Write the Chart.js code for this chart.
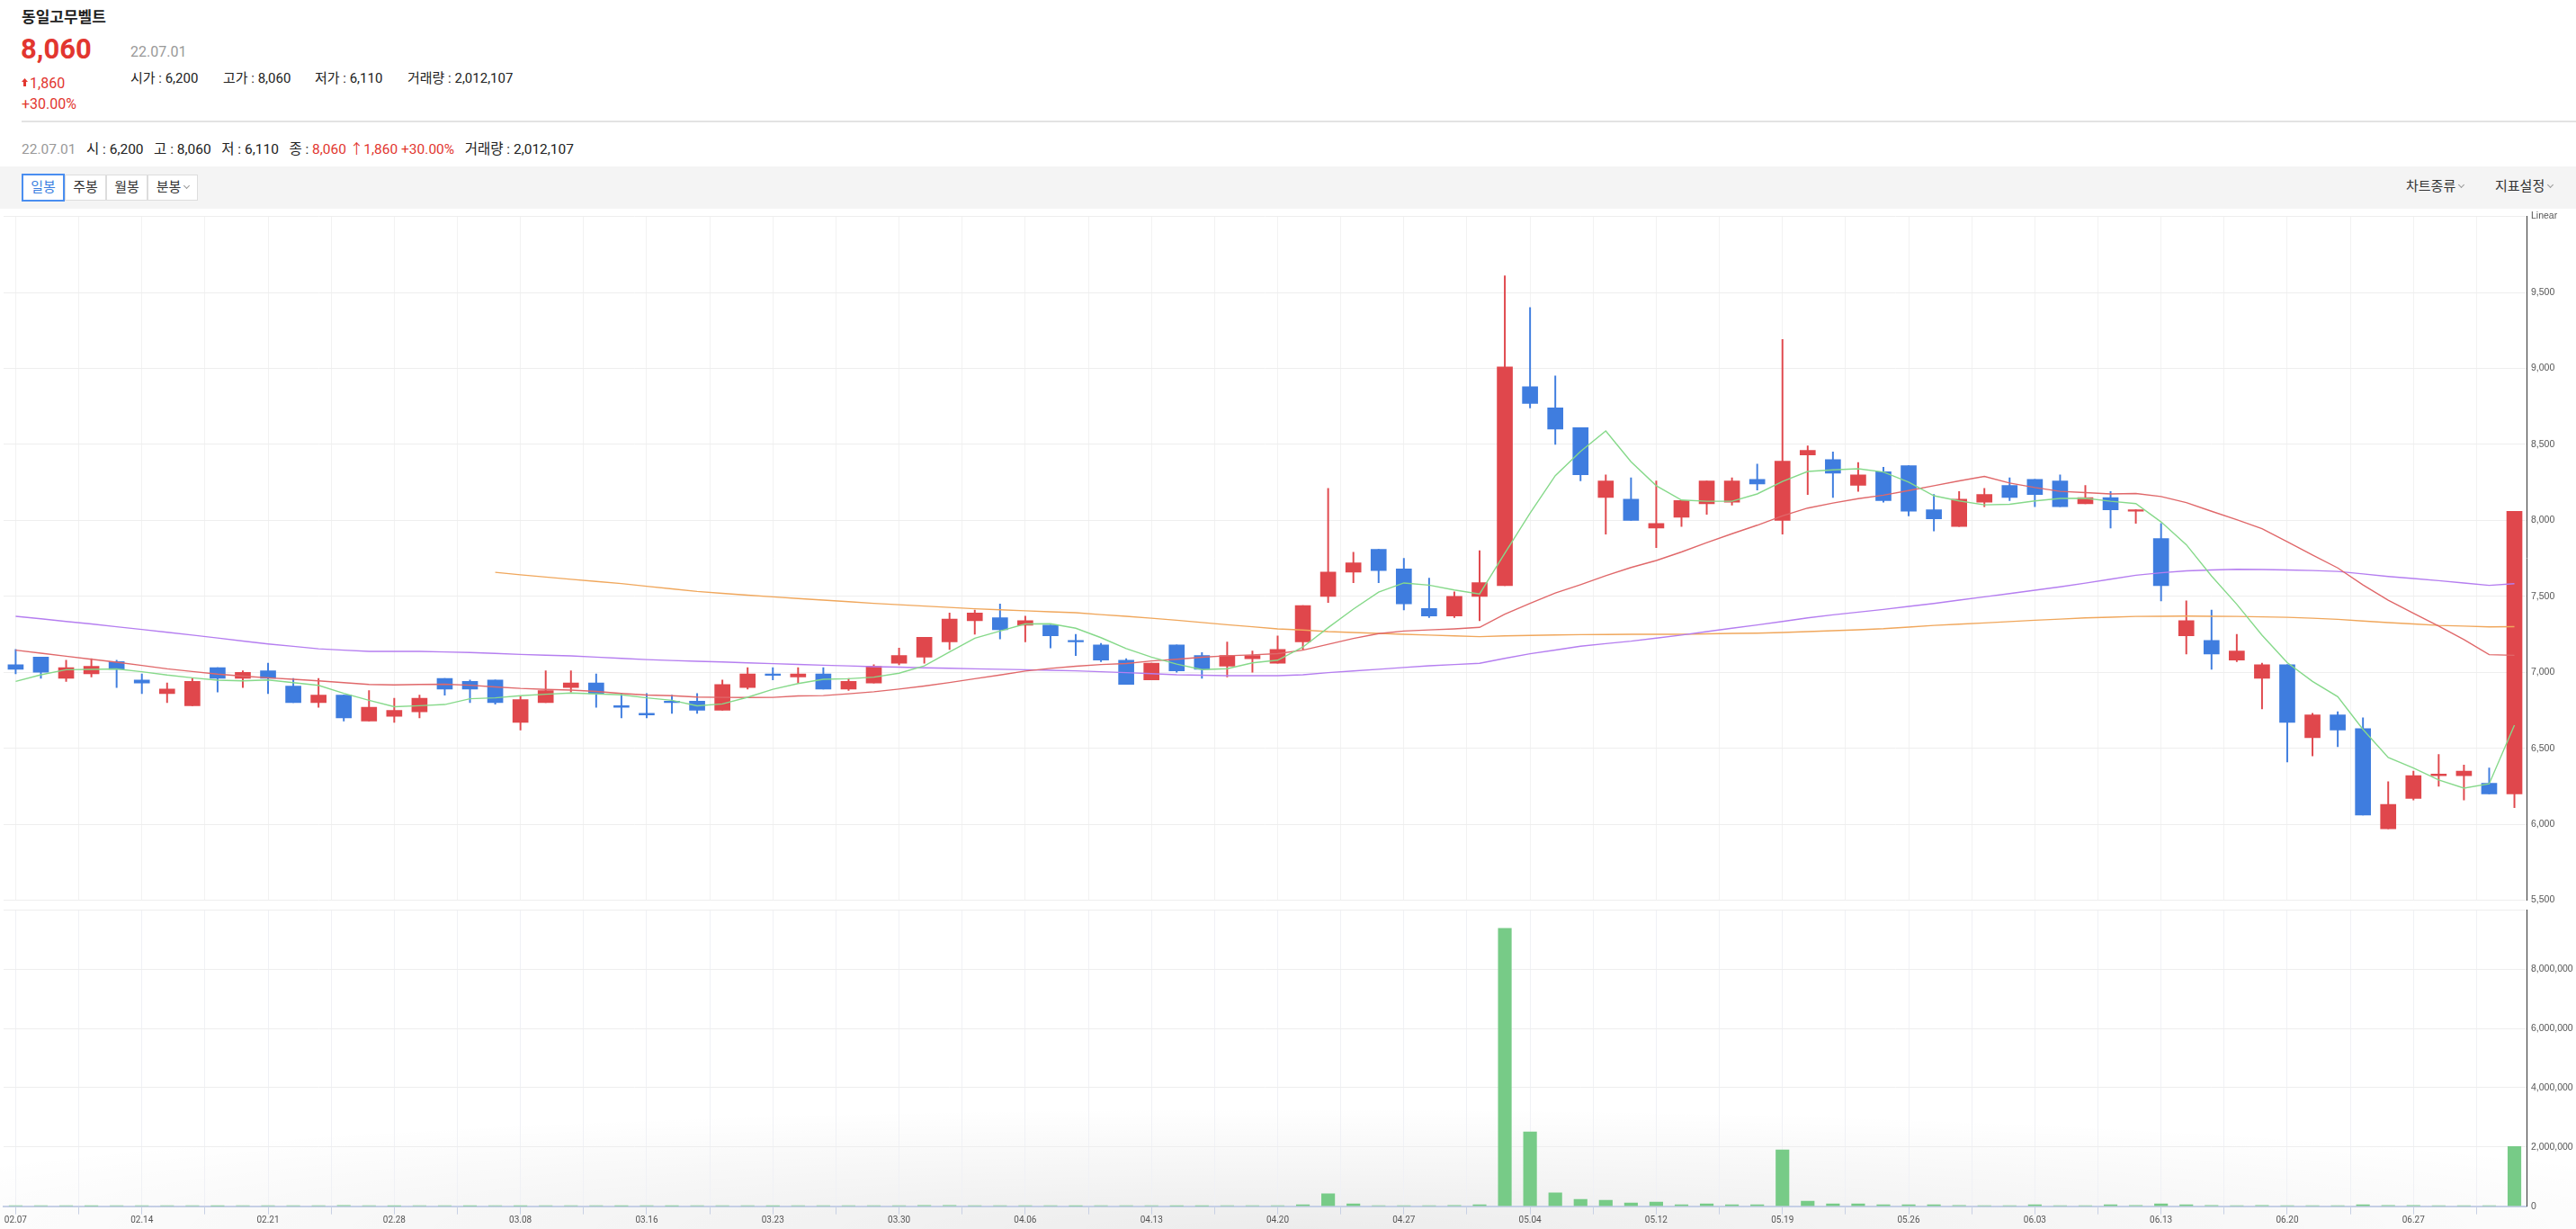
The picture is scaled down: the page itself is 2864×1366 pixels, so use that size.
<!DOCTYPE html>
<html><head><meta charset="utf-8">
<script src="https://cdn.jsdelivr.net/npm/chart.js@4.4.1/dist/chart.umd.min.js"></script>
<style>
html{overflow:hidden;height:1366px;}
html,body{margin:0;padding:0;background:#fff;}
body{width:2864px;height:1366px;overflow:hidden;position:relative;font-family:Roboto,"Noto Sans CJK KR",sans-serif;color:#222;}
.a{position:absolute;white-space:nowrap;}
.red{color:#e2362f;}
.grey{color:#999;}
.btn{position:absolute;top:194px;height:27px;border:1px solid #ddd;background:#fff;font-size:15px;line-height:27px;text-align:center;color:#333;box-sizing:content-box;}
.chev{display:inline-block;width:4px;height:4px;border-right:1px solid #999;border-bottom:1px solid #999;transform:rotate(45deg);margin-left:4px;vertical-align:4px;}
canvas{position:absolute;left:0;}
</style></head><body>
<div class="a" style="left:0;top:1230px;width:2864px;height:136px;background:radial-gradient(ellipse 60% 100% at 50% 100%, rgba(0,0,0,0.075), rgba(0,0,0,0) 100%);"></div>
<div class="a" style="left:24px;top:8px;font-size:17px;line-height:22px;font-weight:bold;color:#222;">동일고무벨트</div>
<div class="a red" style="left:23px;top:39px;font-size:31px;line-height:31px;font-weight:bold;">8,060</div>
<svg class="a" style="left:24px;top:87px;" width="7" height="9" viewBox="0 0 7 9"><path d="M3.5 0 L7 4 L5 4 L5 9 L2 9 L2 4 L0 4 Z" fill="#e2362f"/></svg>
<div class="a red" style="left:33px;top:85px;font-size:16px;line-height:16px;">1,860</div>
<div class="a red" style="left:24px;top:108px;font-size:16px;line-height:16px;">+30.00%</div>
<div class="a grey" style="left:145px;top:50px;font-size:16px;line-height:16px;">22.07.01</div>
<div class="a" style="left:145px;top:79px;font-size:15px;line-height:16px;">시가 : 6,200</div>
<div class="a" style="left:248px;top:79px;font-size:15px;line-height:16px;">고가 : 8,060</div>
<div class="a" style="left:350px;top:79px;font-size:15px;line-height:16px;">저가 : 6,110</div>
<div class="a" style="left:453px;top:79px;font-size:15px;line-height:16px;">거래량 : 2,012,107</div>
<div class="a" style="left:24px;top:134px;width:2840px;height:2px;background:#e3e3e3;"></div>
<div class="a" style="left:24px;top:158px;font-size:15.5px;line-height:16px;"><span class="grey">22.07.01</span>&nbsp;&nbsp; 시 : 6,200&nbsp;&nbsp; 고 : 8,060&nbsp;&nbsp; 저 : 6,110&nbsp;&nbsp; 종 : <span class="red">8,060 ↑1,860 +30.00%</span>&nbsp;&nbsp; 거래량 : 2,012,107</div>
<div class="a" style="left:0;top:185px;width:2864px;height:47px;background:#f4f4f4;"></div>
<div class="btn" style="left:24px;width:44px;border:2px solid #4a8ef0;top:193px;color:#3b7fe0;">일봉</div>
<div class="btn" style="left:72px;width:44px;">주봉</div>
<div class="btn" style="left:118px;width:44px;">월봉</div>
<div class="btn" style="left:164px;width:54px;">분봉<span class="chev"></span></div>
<div class="a" style="left:2675px;top:199px;font-size:15px;line-height:16px;color:#333;">차트종류<span class="chev"></span></div>
<div class="a" style="left:2774px;top:199px;font-size:15px;line-height:16px;color:#333;">지표설정<span class="chev"></span></div>
<canvas id="price" width="2864" height="800" style="top:221px;"></canvas>
<canvas id="vol" width="2864" height="375" style="top:991px;"></canvas>
<script>
const dates = ["02.07","02.08","02.09","02.10","02.11","02.14","02.15","02.16","02.17","02.18","02.21","02.22","02.23","02.24","02.25","02.28",
"03.02","03.03","03.04","03.07","03.08","03.10","03.11","03.14","03.15","03.16","03.17","03.18","03.21","03.22","03.23","03.24","03.25","03.28","03.29","03.30","03.31",
"04.01","04.04","04.05","04.06","04.07","04.08","04.11","04.12","04.13","04.14","04.15","04.18","04.19","04.20","04.21","04.22","04.25","04.26","04.27","04.28","04.29",
"05.02","05.03","05.04","05.06","05.09","05.10","05.11","05.12","05.13","05.16","05.17","05.18","05.19","05.20","05.23","05.24","05.25","05.26","05.27","05.30","05.31",
"06.02","06.03","06.07","06.08","06.09","06.10","06.13","06.14","06.15","06.16","06.17","06.20","06.21","06.22","06.23","06.24","06.27","06.28","06.29","06.30",
"07.01"];
const opens = [7050,7100,6960,6990,7070,6950,6860,6780,7030,6960,7010,6910,6800,6850,6680,6710,6740,6960,6940,6950,
6670,6800,6900,6930,6780,6730,6810,6810,6750,6900,6990,6970,6990,6890,6930,7060,7100,7200,7340,7360,
7310,7310,7210,7180,7080,6950,7180,7110,7040,7090,7060,7200,7500,7660,7810,7680,7420,7370,7500,7570,
8880,8740,8610,8150,8140,7950,8020,8110,8120,8270,8000,8430,8400,8230,8320,8360,8070,7960,8120,8230,
8270,8260,8110,8150,8060,7880,7240,7210,7080,6960,7050,6570,6720,6630,5970,6170,6320,6320,6270,6200];
const highs = [7150,7100,7080,7090,7080,6990,6930,6960,7030,7010,7060,6960,6960,6850,6880,6830,6850,6960,6950,6950,
6840,7010,7010,6990,6860,6860,6850,6860,6950,7030,7030,7030,7030,6960,7050,7160,7230,7390,7410,7450,
7370,7310,7250,7190,7090,7060,7180,7130,7200,7140,7240,7440,8210,7790,7810,7750,7620,7530,7800,9610,
9400,8950,8610,8300,8280,8260,8130,8260,8280,8370,9190,8490,8450,8380,8350,8360,8170,8190,8210,8280,
8270,8300,8230,8190,8070,7980,7470,7410,7250,7060,7050,6730,6740,6700,6280,6350,6460,6390,6370,8060];
const lows = [6990,6960,6940,6970,6900,6860,6800,6780,6870,6900,6860,6800,6770,6680,6680,6670,6700,6850,6800,6790,
6620,6800,6870,6770,6700,6700,6730,6730,6750,6890,6950,6930,6890,6880,6930,7050,7060,7150,7250,7220,
7200,7160,7110,7070,6920,6950,7000,6960,6970,7000,7060,7150,7460,7590,7590,7410,7360,7360,7340,7570,
8740,8500,8260,7910,8000,7820,7960,8040,8100,8200,7910,8170,8150,8190,8120,8030,7930,7960,8090,8130,
8090,8090,8110,7950,7980,7470,7120,7020,7070,6760,6410,6450,6510,6060,5970,6160,6250,6160,6200,6110];
const closes = [7020,7000,7030,7040,7020,6930,6890,6940,6960,7000,6960,6800,6850,6700,6770,6750,6830,6890,6890,6800,
6820,6880,6930,6860,6770,6720,6800,6750,6920,6990,6980,6990,6890,6940,7040,7110,7230,7350,7390,7280,
7340,7240,7200,7080,6920,7060,7010,7020,7110,7110,7150,7440,7660,7720,7670,7450,7370,7500,7590,9010,
8770,8600,8300,8260,8000,7980,8130,8260,8260,8240,8390,8460,8310,8300,8130,8060,8010,8140,8170,8150,
8170,8090,8150,8070,8070,7570,7340,7120,7140,7050,6670,6720,6620,6060,6130,6320,6330,6350,6200,8060];
const ma5 = [6940,6984,7017,7019,7022,7004,6982,6964,6948,6944,6950,6932,6914,6862,6816,6774,6780,6788,6826,6832,
6846,6856,6864,6858,6852,6832,6816,6780,6792,6836,6888,6926,6954,6958,6968,6994,7042,7134,7224,7272,
7318,7320,7290,7228,7156,7100,7054,7018,7024,7062,7080,7166,7294,7416,7528,7588,7574,7542,7516,7784,
8048,8294,8454,8588,8386,8228,8134,8126,8126,8174,8256,8322,8332,8340,8318,8252,8162,8128,8102,8106,
8128,8144,8146,8126,8110,7990,7840,7634,7448,7244,7064,6940,6840,6624,6440,6370,6292,6238,6266,6652];
const ma20 = [7146,7126,7106,7086,7067,7045,7023,7005,6988,6975,6964,6954,6944,6932,6920,6917,6920,6922,6915,6904,
6894,6888,6883,6874,6861,6851,6846,6837,6835,6834,6835,6845,6847,6859,6872,6890,6910,6933,6958,6982,
7008,7026,7040,7051,7058,7075,7086,7099,7109,7115,7123,7146,7184,7223,7255,7272,7279,7286,7296,7383,
7454,7522,7577,7636,7690,7736,7792,7854,7912,7968,8030,8081,8114,8143,8166,8196,8228,8260,8289,8246,
8216,8191,8183,8174,8177,8157,8117,8060,8004,7945,7859,7772,7687,7575,7475,7388,7304,7215,7116,7112];
const ma60 = [7369,7352,7335,7318,7300,7282,7264,7245,7226,7206,7187,7171,7155,7146,7138,7138,7138,7134,7130,7124,
7118,7113,7108,7100,7092,7084,7078,7073,7068,7062,7057,7052,7047,7042,7037,7034,7030,7027,7023,7020,
7017,7013,7010,7004,6998,6991,6984,6981,6978,6978,6978,6984,6998,7009,7020,7032,7043,7051,7059,7092,
7122,7147,7172,7189,7205,7225,7245,7268,7290,7312,7335,7358,7378,7396,7414,7434,7453,7475,7497,7518,
7540,7563,7587,7613,7639,7655,7668,7674,7678,7677,7674,7670,7664,7648,7631,7617,7603,7588,7572,7583];
const ma120 = [null,null,null,null,null,null,null,null,null,null,null,null,null,null,null,null,null,null,null,7658,
7642,7627,7612,7598,7584,7566,7549,7532,7520,7508,7497,7486,7475,7465,7454,7445,7436,7427,7418,7412,
7405,7398,7392,7380,7369,7356,7343,7328,7313,7300,7286,7278,7268,7262,7256,7250,7245,7240,7235,7240,
7243,7246,7248,7249,7250,7250,7250,7253,7256,7258,7262,7268,7274,7280,7287,7298,7309,7317,7325,7334,
7343,7350,7358,7363,7368,7369,7370,7369,7368,7365,7362,7356,7349,7338,7327,7318,7309,7304,7299,7301];
const volumes = [21000,18000,15000,12000,16000,14000,19000,13000,11000,17000,15000,22000,14000,25000,16000,12000,14000,13000,11000,15000,
12000,14000,16000,13000,12000,15000,11000,13000,19000,17000,12000,14000,13000,15000,18000,21000,24000,30000,22000,16000,
14000,13000,12000,15000,17000,13000,12000,11000,14000,13000,20000,50000,420000,80000,20000,15000,18000,25000,50000,9380000,
2510000,450000,234000,204000,112000,143000,51000,82000,51000,51000,1900000,173000,82000,82000,51000,51000,51000,25000,20000,22000,
51000,20000,18000,51000,25000,82000,51000,30000,20000,25000,22000,18000,20000,51000,30000,25000,20000,15000,18000,2012107];
const priceTicks = [5500,6000,6500,7000,7500,8000,8500,9000,9500,10000];
const volumeTicks = [0,2000000,4000000,6000000,8000000,10000000];

const RED = '#e0474c', BLUE = '#3f7ddf';
const candleColors = closes.map((c,i)=> c >= opens[i] ? RED : BLUE);
const idx = closes.map((_,i)=>i);
const xMin = -0.478, xMax = 99.48;
const gridTicks = (s)=>{ const t=[]; for(let k=0;k*2.5<=xMax;k++) t.push({value:k*2.5}); s.ticks=t; };
const fmt = v => Number(v).toLocaleString('en-US');
const axisFont = {family:'"Liberation Sans", Arial, sans-serif', size:10.5};

const line = (label, arr, color) => ({type:'line', label, data: idx.map(i=>({x:i,y:arr[i]})), borderColor: color,
  borderWidth:1.4, pointRadius:0, tension:0, order:0, spanGaps:false});

new Chart(document.getElementById('price'), {
  type:'bar',
  data:{datasets:[
    line('MA5', ma5, '#86d98a'),
    line('MA20', ma20, '#e0686a'),
    line('MA60', ma60, '#b57ef0'),
    line('MA120', ma120, '#f0a75c'),
    {label:'body', data: idx.map(i=>({x:i,y:[opens[i],closes[i]]})), backgroundColor:candleColors, barThickness:17, grouped:false, order:1, minBarLength:1},
    {label:'wick', data: idx.map(i=>({x:i,y:[lows[i],highs[i]]})), backgroundColor:candleColors, barThickness:1.3, grouped:false, order:2}
  ]},
  options:{
    responsive:false, animation:false, events:[],
    layout:{padding:{left:4,right:0,top:19.6,bottom:20.4}},
    plugins:{legend:{display:false},tooltip:{enabled:false}},
    scales:{
      x:{type:'linear', min:xMin, max:xMax, offset:false, afterBuildTicks:gridTicks, afterFit:s=>{s.height=0;},
         ticks:{display:false}, grid:{color:'#f2f2f2', drawTicks:false, offset:false}, border:{display:false}},
      y:{position:'right', min:priceTicks[0], max:priceTicks[priceTicks.length-1],
         afterBuildTicks:s=>{s.ticks=priceTicks.map(v=>({value:v}));},
         afterFit:s=>{s.width=55;},
         ticks:{callback:v=> v===10000 ? 'Linear' : fmt(v), font:axisFont, color:'#555', padding:5},
         grid:{color:'#eeeeee', drawTicks:false}, border:{color:'#333', width:1}}
    }
  }
});

new Chart(document.getElementById('vol'), {
  type:'bar',
  data:{datasets:[
    {label:'volume', data: idx.map(i=>({x:i,y:volumes[i]})), backgroundColor:'#77cb87', barThickness:14.5, grouped:false}
  ]},
  options:{
    responsive:false, animation:false, events:[],
    layout:{padding:{left:4,right:0,top:20.4,bottom:0.3}},
    plugins:{legend:{display:false},tooltip:{enabled:false}},
    scales:{
      x:{type:'linear', min:xMin, max:xMax, offset:false, afterBuildTicks:gridTicks, afterFit:s=>{s.height=25;},
         ticks:{autoSkip:false, maxRotation:0, padding:1, font:{family:'Roboto, sans-serif', size:10}, color:'#555',
           callback:v=> (Math.abs(v-Math.round(v))<1e-6 && Math.round(v)%5===0) ? dates[Math.round(v)] : ''},
         grid:{color:'#f0f1f5', tickColor:'#c8d0e4', tickLength:9, offset:false},
         border:{color:'#c5cfe6', width:2}},
      y:{position:'right', min:0, max:10000000,
         afterBuildTicks:s=>{s.ticks=volumeTicks.map(v=>({value:v}));},
         afterFit:s=>{s.width=55;},
         ticks:{callback:v=> v===10000000 ? '' : fmt(v), font:axisFont, color:'#555', padding:5},
         grid:{color:'#eeeeee', drawTicks:false}, border:{color:'#333', width:1}}
    }
  }
});
</script>
</body></html>
